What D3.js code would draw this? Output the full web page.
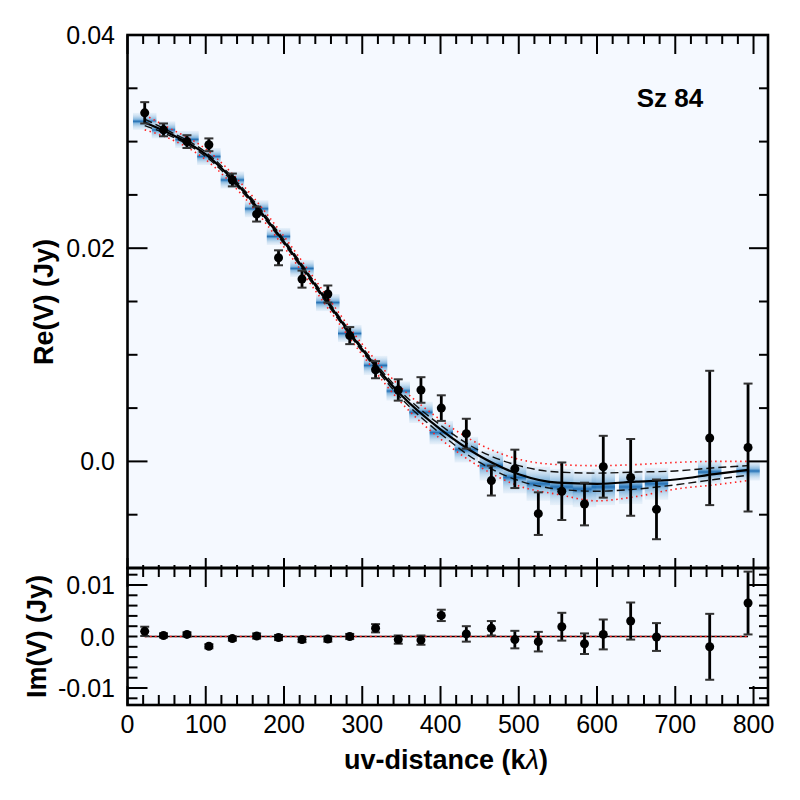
<!DOCTYPE html>
<html>
<head>
<meta charset="utf-8">
<script src="https://cdn.jsdelivr.net/npm/d3@7"></script>
<style>
  body { margin: 0; background: #fff; }
  text { font-family: "Liberation Sans", Arial, Helvetica, sans-serif; }
</style>
</head>
<body>
<svg id="chart" width="800" height="800"></svg>
<script>
// binned visibilities
const uvDist = [22, 46, 76, 104, 134, 165, 193, 223, 256, 284, 317, 346, 375, 401, 433, 465, 495, 525, 555, 584, 608, 643, 676, 744, 793];
const reVals = [0.0327, 0.0311, 0.0300, 0.0297, 0.0264, 0.0232, 0.0191, 0.0171, 0.0157, 0.0118, 0.0086, 0.0067, 0.0067, 0.0050, 0.0026, -0.0018, -0.0007, -0.0049, -0.0028, -0.0040, -0.0005, -0.0015, -0.0045, 0.0022, 0.0013];
const reErrs = [0.0010, 0.0006, 0.0006, 0.0006, 0.0006, 0.0007, 0.0007, 0.0008, 0.0008, 0.0008, 0.0008, 0.0010, 0.0012, 0.0012, 0.0014, 0.0014, 0.0018, 0.0020, 0.0027, 0.0020, 0.0029, 0.0036, 0.0028, 0.0063, 0.0060];
const imVals = [0.0010, 0.0002, 0.0004, -0.0019, -0.0004, 0.0001, -0.0002, -0.0006, -0.0005, 0.0000, 0.0016, -0.0006, -0.0007, 0.0041, 0.0005, 0.0016, -0.0006, -0.0010, 0.0019, -0.0014, 0.0004, 0.0030, -0.0001, -0.0020, 0.0065];
const imErrs = [0.0009, 0.0004, 0.0004, 0.0004, 0.0004, 0.0005, 0.0005, 0.0005, 0.0005, 0.0005, 0.0008, 0.0008, 0.0009, 0.0011, 0.0015, 0.0014, 0.0017, 0.0019, 0.0027, 0.0020, 0.0029, 0.0036, 0.0027, 0.0064, 0.0061];

// posterior model at each bin (blue patches)
const patchMid = [0.0319, 0.0311, 0.0302, 0.0286, 0.0264, 0.0237, 0.0211, 0.0181, 0.0149, 0.0120, 0.0090, 0.0066, 0.0046, 0.0027, 0.0011, -0.0004, -0.0015, -0.0021, -0.0024, -0.0026, -0.0024, -0.0024, -0.0021, -0.0010, -0.0009];
const patchSd = [0.0008, 0.0008, 0.0008, 0.0008, 0.0008, 0.0008, 0.0008, 0.0008, 0.0008, 0.0008, 0.0009, 0.0009, 0.0010, 0.0011, 0.0012, 0.0014, 0.0015, 0.0016, 0.0017, 0.0017, 0.0017, 0.0016, 0.0015, 0.0011, 0.0009];

// model curves
const modelX = [22, 50, 100, 150, 200, 250, 300, 350, 400, 450, 500, 550, 600, 650, 700, 750, 793];
const bestFit = [0.0318, 0.0309, 0.0288, 0.0252, 0.0206, 0.0155, 0.0105, 0.0062, 0.0030, 0.0005, -0.0012, -0.0020, -0.0021, -0.0019, -0.0017, -0.0012, -0.0008];
const dashHi = [0.0321, 0.0311, 0.0290, 0.0254, 0.0208, 0.0157, 0.0107, 0.0065, 0.0034, 0.0010, -0.0004, -0.0010, -0.0011, -0.0010, -0.0009, -0.0006, -0.0004];
const dashLo = [0.0315, 0.0307, 0.0286, 0.0250, 0.0204, 0.0153, 0.0103, 0.0059, 0.0026, -0.0001, -0.0018, -0.0026, -0.0028, -0.0026, -0.0022, -0.0017, -0.0013];
const dotHi = [0.0325, 0.0314, 0.0293, 0.0257, 0.0211, 0.0160, 0.0110, 0.0069, 0.0039, 0.0016, 0.0002, -0.0003, -0.0004, -0.0003, -0.0001, 0.0000, 0.0000];
const dotLo = [0.0311, 0.0304, 0.0283, 0.0247, 0.0201, 0.0150, 0.0100, 0.0055, 0.0021, -0.0005, -0.0023, -0.0031, -0.0037, -0.0033, -0.0026, -0.0022, -0.0018];

const xTickLabels = ["0", "100", "200", "300", "400", "500", "600", "700", "800"];
const reTicks = [0.04, 0.02, 0.0];
const reTickLabels = ["0.04", "0.02", "0.0"];
const imTicks = [0.01, 0.0, -0.01];
const imTickLabels = ["0.01", "0.0", "-0.01"];

const svg = d3.select("#chart");
const pLeft = 127.5, pRight = 768, pTop = 35, pMid = 568, pBottom = 705;

const x = d3.scaleLinear().domain([0, 818.5]).range([pLeft, pRight]);
const yRe = d3.scaleLinear().domain([-0.01, 0.04]).range([pMid, pTop]);
const yIm = d3.scaleLinear().domain([-0.0133, 0.0133]).range([pBottom, pMid]);

const defs = svg.append("defs");
const grad = defs.append("linearGradient")
    .attr("id", "patchGrad")
    .attr("x1", 0).attr("y1", 0).attr("x2", 0).attr("y2", 1);
[[0, "#d6e6f4", 0.45], [0.2, "#b9d5ec", 0.85], [0.38, "#7fb3dc", 0.95], [0.46, "#3a84c2", 1], [0.5, "#1c69ae", 1], [0.54, "#3a84c2", 1], [0.62, "#7fb3dc", 0.95], [0.8, "#b9d5ec", 0.85], [1, "#d6e6f4", 0.45]]
    .forEach(s => grad.append("stop").attr("offset", s[0]).attr("stop-color", s[1]).attr("stop-opacity", s[2]));
defs.append("clipPath").attr("id", "clipRe")
    .append("rect").attr("x", pLeft).attr("y", pTop).attr("width", pRight - pLeft).attr("height", pMid - pTop);

// panel backgrounds
svg.append("rect").attr("x", pLeft).attr("y", pTop).attr("width", pRight - pLeft).attr("height", pMid - pTop).style("fill", "#f5f9ff");
svg.append("rect").attr("x", pLeft).attr("y", pMid).attr("width", pRight - pLeft).attr("height", pBottom - pMid).style("fill", "#f5f9ff");

const gRe = svg.append("g").attr("clip-path", "url(#clipRe)");

// blue posterior patches
const patches = uvDist.map((d, i) => ({ x: d, m: patchMid[i], s: patchSd[i] }));
gRe.selectAll(".patch")
    .data(patches)
    .enter()
    .append("rect")
    .attr("class", "patch")
    .attr("x", d => x(Math.max(0, d.x - 15)))
    .attr("width", d => x(d.x + 15) - x(Math.max(0, d.x - 15)))
    .attr("y", d => yRe(d.m + d.s))
    .attr("height", d => yRe(d.m - d.s) - yRe(d.m + d.s))
    .style("fill", "url(#patchGrad)")
    .style("opacity", 0.95);

const modelLine = arr => d3.line()
    .x((d, i) => x(modelX[i]))
    .y(d => yRe(d))
    .curve(d3.curveMonotoneX)(arr);

[dotHi, dotLo].forEach(arr => {
    gRe.append("path").attr("d", modelLine(arr))
        .style("fill", "none").style("stroke", "#ff2020")
        .style("stroke-width", 1.6).style("stroke-dasharray", "1.5,3.5");
});
[dashHi, dashLo].forEach(arr => {
    gRe.append("path").attr("d", modelLine(arr))
        .style("fill", "none").style("stroke", "#111")
        .style("stroke-width", 1.4).style("stroke-dasharray", "8,4");
});
gRe.append("path").attr("d", modelLine(bestFit))
    .style("fill", "none").style("stroke", "#000").style("stroke-width", 2.2);

// data points with error bars
function drawPoints(g, vals, errs, y) {
    const pts = uvDist.map((d, i) => ({ x: d, v: vals[i], e: errs[i] }));
    const eb = g.selectAll(null).data(pts).enter().append("g");
    eb.append("line")
        .attr("x1", d => x(d.x)).attr("x2", d => x(d.x))
        .attr("y1", d => y(d.v - d.e)).attr("y2", d => y(d.v + d.e))
        .style("stroke", "#000").style("stroke-width", 2.8);
    [-1, 1].forEach(sgn => {
        eb.append("line")
            .attr("x1", d => x(d.x) - 4.5).attr("x2", d => x(d.x) + 4.5)
            .attr("y1", d => y(d.v + sgn * d.e)).attr("y2", d => y(d.v + sgn * d.e))
            .style("stroke", "#333").style("stroke-width", 2);
    });
    eb.append("circle")
        .attr("cx", d => x(d.x)).attr("cy", d => y(d.v)).attr("r", 4.5)
        .style("fill", "#000");
}
drawPoints(svg.append("g"), reVals, reErrs, yRe);

// Im panel zero model line
svg.append("line")
    .attr("x1", x(modelX[0])).attr("x2", x(modelX[modelX.length - 1]))
    .attr("y1", yIm(0)).attr("y2", yIm(0))
    .style("stroke", "#000").style("stroke-width", 1.6);
svg.append("line")
    .attr("x1", x(modelX[0])).attr("x2", x(modelX[modelX.length - 1]))
    .attr("y1", yIm(0)).attr("y2", yIm(0))
    .style("stroke", "#ff2020").style("stroke-width", 1.6).style("stroke-dasharray", "2,3");
drawPoints(svg.append("g"), imVals, imErrs, yIm);

// ticks
const tickStyle = sel => sel.style("stroke", "#000").style("stroke-width", 2);
function xTicks(yPos, dir, majLen, minLen) {
    const vals = d3.range(0, 801, 20);
    svg.append("g").selectAll("line").data(vals).enter().append("line")
        .attr("x1", d => x(d)).attr("x2", d => x(d))
        .attr("y1", yPos)
        .attr("y2", d => yPos + dir * (d % 100 === 0 ? majLen : minLen))
        .call(tickStyle);
}
function yTicks(scale, vals, isMajor) {
    const g = svg.append("g");
    g.selectAll(".l").data(vals).enter().append("line")
        .attr("x1", pLeft).attr("x2", d => pLeft + (isMajor(d) ? 20 : 10))
        .attr("y1", d => scale(d)).attr("y2", d => scale(d)).call(tickStyle);
    g.selectAll(".r").data(vals).enter().append("line")
        .attr("x1", pRight).attr("x2", d => pRight - (isMajor(d) ? 19 : 9))
        .attr("y1", d => scale(d)).attr("y2", d => scale(d)).call(tickStyle);
}
xTicks(pTop, 1, 19, 9);
xTicks(pMid, -1, 10, 3);
xTicks(pMid, 1, 19, 9);
xTicks(pBottom, -1, 19, 10);
yTicks(yRe, d3.range(-10, 41, 5).map(d => d / 1000), d => Math.abs(Math.round(d * 1000)) % 20 === 0);
yTicks(yIm, d3.range(-12, 13, 2).map(d => d / 1000), d => Math.abs(Math.round(d * 1000)) === 10);

// frames
[[pTop, pMid], [pMid, pBottom]].forEach(([a, b]) => {
    svg.append("rect").attr("x", pLeft).attr("y", a).attr("width", pRight - pLeft).attr("height", b - a)
        .style("fill", "none").style("stroke", "#000").style("stroke-width", 2.6);
});

// tick labels
svg.append("g").selectAll("text").data(xTickLabels).enter().append("text")
    .attr("x", (d, i) => x(i * 100)).attr("y", 733)
    .attr("text-anchor", "middle").style("font-size", "25px").text(d => d);
svg.append("g").selectAll("text").data(reTicks).enter().append("text")
    .attr("x", 115).attr("y", d => yRe(d) + 9)
    .attr("text-anchor", "end").style("font-size", "25px").text((d, i) => reTickLabels[i]);
svg.append("g").selectAll("text").data(imTicks).enter().append("text")
    .attr("x", 115).attr("y", d => yIm(d) + 9)
    .attr("text-anchor", "end").style("font-size", "25px").text((d, i) => imTickLabels[i]);

// axis titles
svg.append("text")
    .attr("transform", "translate(53 302) rotate(-90)")
    .attr("text-anchor", "middle").style("font-size", "27px").style("font-weight", "bold")
    .text("Re(V) (Jy)");
svg.append("text")
    .attr("transform", `translate(46 ${yIm(0)}) rotate(-90)`)
    .attr("text-anchor", "middle").style("font-size", "27px").style("font-weight", "bold")
    .text("Im(V) (Jy)");
const xt = svg.append("text")
    .attr("x", 446).attr("y", 769)
    .attr("text-anchor", "middle").style("font-size", "27px").style("font-weight", "bold");
xt.append("tspan").text("uv-distance (k");
xt.append("tspan").style("font-weight", "normal").style("font-style", "italic").text("λ");
xt.append("tspan").text(")");

svg.append("text")
    .attr("x", 670).attr("y", 107)
    .attr("text-anchor", "middle").style("font-size", "26px").style("font-weight", "bold")
    .text("Sz 84");
</script>
</body>
</html>
